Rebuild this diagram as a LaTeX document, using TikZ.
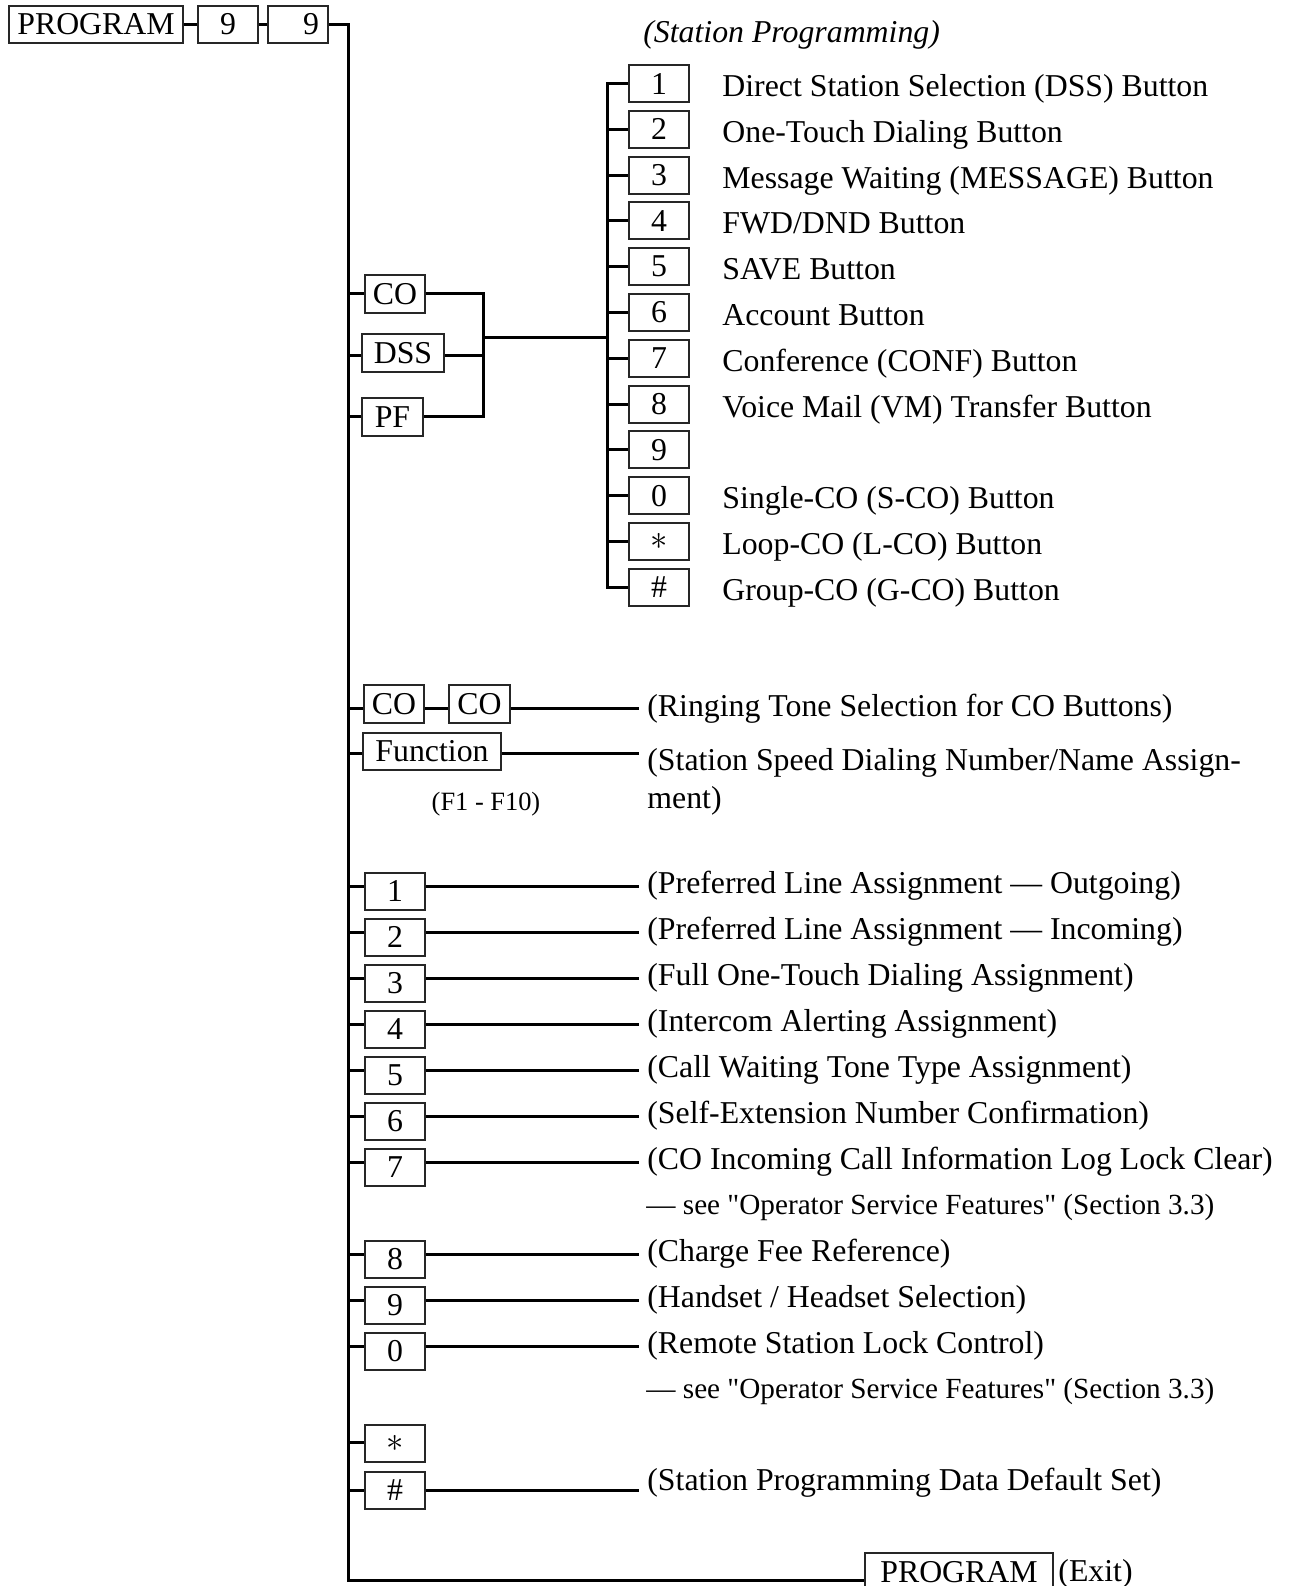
\documentclass[tikz,border=0pt]{standalone}
\usepackage{fontspec}
\setmainfont{Liberation Serif}[Ligatures=TeXOff]
\newcommand\mainfs{\fontsize{15.9}{19}\selectfont}
\newcommand\toprow[4]{%
  \node[box,minimum width=30pt] (tb#1) at (659,#2) {#3};
  \coordinate (tc#1) at (607,#2);
  \draw[conn] (tc#1) -- (tb#1.west);
  \node[lbl] (tl#1) at (722,#2+13) {#4};
}
\newcommand\lowrow[5]{%
  \coordinate (lc#1) at (348,#2);
  \node[box,minimum width=30pt] (lb#1) at (395,#2+#3) {#4};
  \draw[conn] (lc#1) -- (lc#1 -| lb#1.west);
  \draw[conn] (lc#1 -| lb#1.east) -- (lc#1 -| tend);
  \node[lbl] (ll#1) at (647,#2+7) {#5};
}
\begin{document}
\begin{tikzpicture}[x=0.5pt,y=-0.5pt,
  conn/.style={line width=1.5pt, black},
  box/.style={draw=black!85, line width=1pt, inner sep=0pt, minimum height=18.5pt, font=\mainfs},
  lbl/.style={anchor=base west, inner sep=0pt, font=\mainfs},
  sml/.style={anchor=base west, inner sep=0pt, font=\fontsize{14.6}{17}\selectfont}]
\useasboundingbox (0,0) rectangle (1290,1586);
\clip (0,0) rectangle (1290,1586);

% ---- header
\node[box,minimum width=87pt] (prog) at (96,24.5) {PROGRAM};
\node[box,minimum width=30pt] (nA) at (228,24.5) {9};
\node[box,minimum width=30pt] (nB) at (298,24.5) {\hspace*{13pt}9};
\coordinate (mtop) at (348,24.5);
\coordinate (mbot) at (348,1580);
\node[box,minimum width=94pt,minimum height=19pt] (exitp) at (959,1572) {PROGRAM};
\node[lbl] (exitt) at (1058,1581) {(Exit)};
\draw[conn] (prog.east) -- (nA.west);
\draw[conn] (nA.east) -- (nB.west);
\draw[conn] (nB.east) -- (mtop) -- (mbot) -- (mbot -| exitp.west);

% ---- station programming keys
\node[lbl,font=\itshape\mainfs] (title) at (643,42) {(Station Programming)};
\node[box,minimum width=30pt,minimum height=19pt] (bco) at (395,294) {CO};
\node[box,minimum width=41pt,minimum height=19pt] (bdss) at (403,353) {DSS};
\node[box,minimum width=30.5pt,minimum height=19pt] (bpf) at (392.5,417) {PF};
\coordinate (cco) at (348,293);
\coordinate (cdss) at (348,355);
\coordinate (cpf) at (348,416);
\draw[conn] (cco) -- (cco -| bco.west);
\draw[conn] (cdss) -- (cdss -| bdss.west);
\draw[conn] (cpf) -- (cpf -| bpf.west);
\coordinate (brt) at (483,293);
\coordinate (brb) at (483,416);
\coordinate (brm) at (483,337);
\coordinate (subm) at (607,337);
\draw[conn] (cco -| bco.east) -- (brt) -- (brb) -- (cpf -| bpf.east);
\draw[conn] (cdss -| bdss.east) -- (cdss -| brt);
\draw[conn] (brm) -- (subm);

\toprow{1}{83.5}{1}{Direct Station Selection (DSS) Button}
\toprow{2}{129.3}{2}{One-Touch Dialing Button}
\toprow{3}{175.1}{3}{Message Waiting (MESSAGE) Button}
\toprow{4}{220.9}{4}{FWD/DND Button}
\toprow{5}{266.7}{5}{SAVE Button}
\toprow{6}{312.5}{6}{Account Button}
\toprow{7}{358.3}{7}{Conference (CONF) Button}
\toprow{8}{404.1}{8}{Voice Mail (VM) Transfer Button}
\node[box,minimum width=30pt] (tb9) at (659,449.9) {9};
\coordinate (tc9) at (607,449.9);
\draw[conn] (tc9) -- (tb9.west);
\toprow{10}{495.7}{0}{Single-CO (S-CO) Button}
\toprow{11}{541.5}{$\ast$}{Loop-CO (L-CO) Button}
\toprow{12}{587.3}{\#}{Group-CO (G-CO) Button}
\draw[conn] (tb1.west) -- (tc1) -- (tc12) -- (tb12.west);

% ---- lower section
\coordinate (tend) at (639,0);
\coordinate (cc) at (348,708);
\node[box,minimum width=30pt,minimum height=19pt] (cA) at (394,704) {CO};
\node[box,minimum width=30.5pt,minimum height=19pt] (cB) at (479.5,704) {CO};
\draw[conn] (cc) -- (cc -| cA.west);
\draw[conn] (cc -| cA.east) -- (cc -| cB.west);
\draw[conn] (cc -| cB.east) -- (cc -| tend);
\node[lbl] (ring) at (647,716) {(Ringing Tone Selection for CO Buttons)};

\coordinate (cf) at (348,753);
\node[box,minimum width=69pt] (fn) at (432,751.5) {Function};
\draw[conn] (cf) -- (cf -| fn.west);
\draw[conn] (cf -| fn.east) -- (cf -| tend);
\node[lbl] (spd1) at (647,770) {(Station Speed Dialing Number/Name Assign-};
\node[lbl] (spd2) at (647,808) {ment)};
\node[anchor=base, inner sep=0pt, font=\fontsize{13.2}{16}\selectfont] (fkeys) at (486,810) {(F1 - F10)};

\lowrow{1}{886}{5}{1}{(Preferred Line Assignment — Outgoing)}
\lowrow{2}{932}{5}{2}{(Preferred Line Assignment — Incoming)}
\lowrow{3}{978}{5}{3}{(Full One-Touch Dialing Assignment)}
\lowrow{4}{1024}{5}{4}{(Intercom Alerting Assignment)}
\lowrow{5}{1070}{5}{5}{(Call Waiting Tone Type Assignment)}
\lowrow{6}{1116}{5}{6}{(Self-Extension Number Confirmation)}
\lowrow{7}{1162}{5}{7}{(CO Incoming Call Information Log Lock Clear)}
\node[sml] (see1) at (646,1214) {— see "Operator Service Features" (Section 3.3)};
\lowrow{8}{1254}{5}{8}{(Charge Fee Reference)}
\lowrow{9}{1300}{5}{9}{(Handset / Headset Selection)}
\lowrow{0}{1346}{5}{0}{(Remote Station Lock Control)}
\node[sml] (see2) at (646,1398) {— see "Operator Service Features" (Section 3.3)};

\coordinate (lcs) at (348,1442);
\node[box,minimum width=30pt] (lbs) at (395,1443) {$\ast$};
\draw[conn] (lcs) -- (lcs -| lbs.west);
\coordinate (lch) at (348,1490);
\node[box,minimum width=30pt] (lbh) at (395,1490) {\#};
\draw[conn] (lch) -- (lch -| lbh.west);
\draw[conn] (lch -| lbh.east) -- (lch -| tend);
\node[lbl] (llh) at (647,1490) {(Station Programming Data Default Set)};
\end{tikzpicture}
\end{document}
